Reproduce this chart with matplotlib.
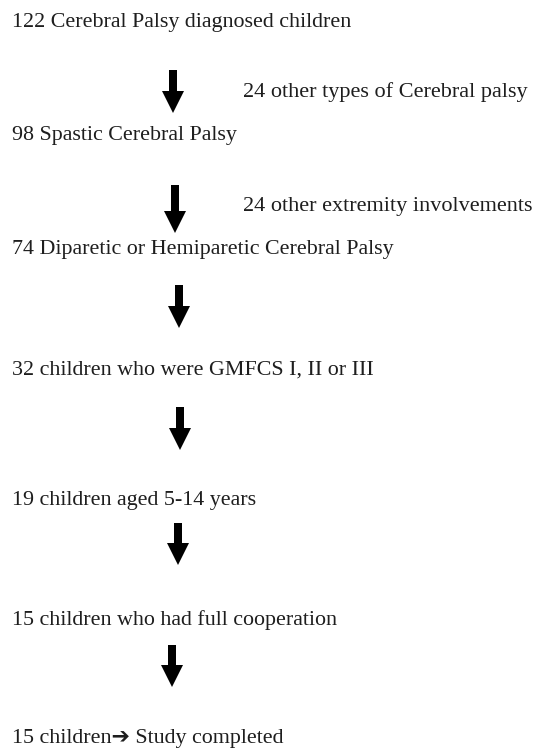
import matplotlib.pyplot as plt
from matplotlib.patches import FancyArrow

# flowchart steps, top to bottom
steps = [
    "122 Cerebral Palsy diagnosed children",
    "98 Spastic Cerebral Palsy",
    "74 Diparetic or Hemiparetic Cerebral Palsy",
    "32 children who were GMFCS I, II or III",
    "19 children aged 5-14 years",
    "15 children who had full cooperation",
    "15 children\u2794 Study completed",
]
# side notes for excluded children, one per arrow (empty = none)
excluded = [
    "24 other types of Cerebral palsy",
    "24 other extremity involvements",
    "", "", "", "",
]

# layout in pixels (from the top of the image)
step_y = [22, 135, 249, 370, 500, 620, 739]
arrow_top = [70, 185, 285, 407, 523, 645]
arrow_bot = [113, 233, 328, 450, 565, 687]
arrow_x = [173, 175, 179, 180, 178, 172]
note_y = [92, 206]

W, H = 533, 753
fig = plt.figure(figsize=(W / 100, H / 100), dpi=100)
ax = fig.add_axes([0, 0, 1, 1])
ax.set_xlim(0, W)
ax.set_ylim(H, 0)
ax.axis("off")

font = ["Liberation Serif", "DejaVu Sans"]
col = "#1e1e1e"

for txt, y in zip(steps, step_y):
    ax.text(12, y, txt, fontsize=15.8, family=font, va="center", ha="left", color=col)

for i in range(len(arrow_top)):
    top, bot, x = arrow_top[i], arrow_bot[i], arrow_x[i]
    ax.add_patch(FancyArrow(x, top, 0, bot - top, width=8,
                            head_width=22, head_length=22,
                            length_includes_head=True, color="black", lw=0))

for i, note in enumerate(excluded):
    if note:
        ax.text(243, note_y[i], note, fontsize=16, family=font,
                va="center", ha="left", color=col)

fig.savefig("out.png", dpi=100)
